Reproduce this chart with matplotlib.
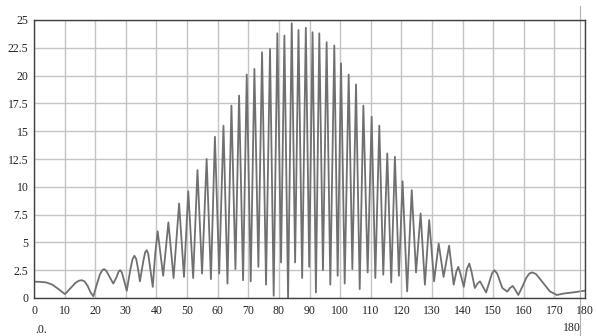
import matplotlib.pyplot as plt

# curve, x in degrees
ang = [0, 2, 4, 6, 8, 10.1, 12, 13.5, 14.6, 15.6, 16.5, 17.5, 18.5, 19.4, 20.5, 21.5, 22.3, 22.9, 23.6,
       24.5, 25.9, 27, 27.6, 28.1, 28.7, 29.4, 30.3, 31.5, 32.2, 32.8, 33.4, 34.0, 34.6, 35.7,
       36.3, 36.8, 37.3, 37.9, 38.8, 39.6,
       40.4, 42.2, 43.9, 45.6, 47.4, 49.0, 50.4, 52.0, 53.4, 54.9, 56.4, 57.8, 59.1,
       60.5, 61.9, 63.2, 64.5, 65.8, 67.0, 68.3, 69.5, 70.8, 72.0, 73.3, 74.5, 75.8,
       77.1, 78.3, 79.5, 80.7, 81.8, 83.0, 84.2, 85.3, 86.4, 87.6, 88.8, 89.9, 91.0,
       92.1, 93.2, 94.4, 95.6, 96.8, 98.1, 99.2, 100.3, 101.5, 102.8, 104.0, 105.2,
       106.4, 107.6, 109.0, 110.3, 111.5, 112.8, 114.1, 115.4, 116.7, 117.9, 119.2,
       120.4, 121.9, 123.4, 124.8, 126.3, 127.7, 129.1, 130.7, 132.2, 133.8, 135.6,
       137.1, 138.0, 138.6, 139.3, 140.4, 141.4, 142.2, 142.9, 144.0, 144.9, 145.7, 146.7,
       147.7, 148.7, 149.6, 150.4, 151.3, 152.2, 153.0, 154.6, 155.5, 156.4, 157.3,
       158.2, 159.5, 160.8, 161.8, 162.8, 164.0, 165.2, 166.5, 168.5, 170.8, 173, 176, 180]
level = [1.47, 1.45, 1.4, 1.2, 0.8, 0.35, 0.9, 1.35, 1.55, 1.6, 1.5, 1.1, 0.5, 0.15, 1.2, 2.1, 2.5, 2.6, 2.45,
         2.0, 1.3, 1.9, 2.35, 2.5, 2.3, 1.6, 0.65, 2.6, 3.5, 3.8, 3.5, 2.6, 1.5, 3.3,
         4.1, 4.3, 4.0, 2.8, 1.0, 4.0,
         6.0, 2.0, 6.8, 1.8, 8.5, 1.9, 9.6, 1.8, 11.5, 2.2, 12.5, 1.7, 14.5,
         2.2, 15.5, 1.3, 17.3, 2.6, 18.2, 1.6, 20.1, 1.5, 20.6, 2.8, 22.1, 1.2,
         22.4, 0.2, 23.8, 3.2, 23.6, 0.0, 24.7, 3.2, 24.1, 1.8, 24.3, 2.8, 23.9,
         0.5, 23.8, 2.5, 23.0, 1.2, 22.7, 2.0, 21.1, 1.3, 20.1, 2.6, 19.2,
         0.8, 17.3, 2.3, 16.3, 1.8, 15.5, 2.1, 13.0, 1.4, 12.7, 2.0,
         10.5, 0.6, 9.7, 2.3, 7.6, 1.2, 7.0, 1.5, 4.9, 1.9, 4.7,
         1.2, 2.4, 2.8, 2.2, 1.0, 2.6, 3.1, 2.4, 0.9, 1.3, 1.5, 1.0,
         0.5, 1.4, 2.2, 2.5, 2.2, 1.5, 0.9, 0.57, 0.9, 1.08, 0.7,
         0.27, 1.0, 1.8, 2.2, 2.3, 2.15, 1.75, 1.3, 0.6, 0.27, 0.4, 0.5, 0.66]

xticks = list(range(0, 181, 10))
yticks = [0, 2.5, 5, 7.5, 10, 12.5, 15, 17.5, 20, 22.5, 25]
ytick_labels = ["0", "2.5", "5", "7.5", "10", "12.5", "15", "17.5", "20", "22.5", "25"]

plt.rcParams['font.family'] = ['Liberation Serif', 'DejaVu Serif']

fig = plt.figure(figsize=(5.97, 3.36), dpi=100)
ax = fig.add_axes([34 / 597, 1 - 298 / 336, 551 / 597, 278 / 336])

ax.plot(ang, level, color='#707070', lw=1.3)
ax.set_xlim(0, 180)
ax.set_ylim(0, 25)
ax.set_xticks(xticks)
ax.set_yticks(yticks)
ax.set_yticklabels(ytick_labels)
ax.grid(True, color='#c4c4c4', lw=1)
ax.set_axisbelow(True)
ax.tick_params(length=0, labelsize=8.5, colors='#222222')
ax.tick_params(axis='x', pad=5)
ax.tick_params(axis='y', pad=4)
for s in ax.spines.values():
    s.set_color('#404040')
    s.set_linewidth(1)

# cursor marker near the right end
ax.axvline(178.4, ymin=-0.14, ymax=1.05, color='#b0b0b0', lw=0.8, clip_on=False)

fig.text(41 / 597, 1 - 330 / 336, ".0.", fontsize=8.5, ha='center', va='center', color='#222222')
fig.text(572 / 597, 1 - 328 / 336, "180", fontsize=8.5, ha='center', va='center', color='#222222')

fig.savefig("out.png", dpi=100)
